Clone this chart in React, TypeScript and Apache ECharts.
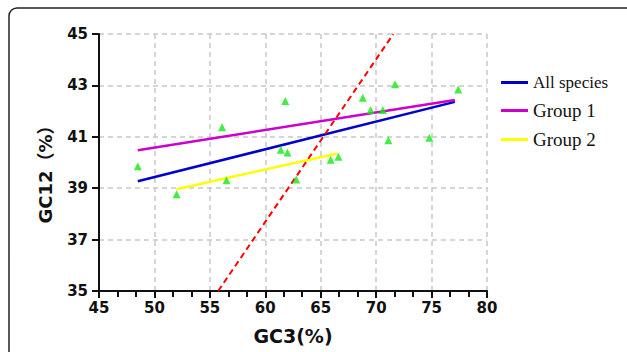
import React, { useEffect, useRef } from "react";
import * as echarts from "echarts";

const xTicks = { min: 45, max: 80, interval: 5 };
const yTicks = { min: 35, max: 45, interval: 2 };

const speciesGC3 = [48.5, 52.0, 56.1, 56.5, 61.8, 61.4, 62.0, 62.8, 65.9, 66.6, 68.8, 69.5, 70.6, 71.7, 71.1, 74.8, 77.4];
const speciesGC12 = [39.85, 38.76, 41.37, 39.31, 42.39, 40.5, 40.39, 39.34, 40.11, 40.22, 42.52, 42.04, 42.04, 43.04, 40.87, 40.96, 42.84];

const allSpeciesFit = [[48.5, 39.27], [77.1, 42.36]];
const group1Fit = [[48.5, 40.48], [77.1, 42.43]];
const group2Fit = [[52.0, 38.96], [66.5, 40.35]];
const neutralityLine = [[55.75, 35.0], [71.55, 45.0]];

const seriesNames = ["All species", "Group 1", "Group 2"];
const xAxisName = "GC3(%)";
const yAxisName = "GC12（%）";

export default function App() {
  const ref = useRef<HTMLDivElement>(null);
  useEffect(() => {
    if (!ref.current) return;
    const chart = echarts.init(ref.current, null, { renderer: "svg" });
    const sans = "'DejaVu Sans', 'Noto Sans CJK SC', sans-serif";
    const serif = "'Liberation Serif', 'Times New Roman', serif";
    const labelFont = {
      fontFamily: sans,
      fontWeight: "bold" as const,
      fontSize: 15,
      color: "#111",
    };
    const split = {
      show: true,
      lineStyle: { color: "#c8c8c8", width: 1.5, type: [5, 4] as number[] },
    };
    chart.setOption({
      animation: false,
      backgroundColor: "#fff",
      graphic: [
        {
          type: "rect",
          shape: { x: 9, y: 8, width: 700, height: 400, r: 8 },
          style: { fill: "none", stroke: "#222", lineWidth: 1.5 },
          silent: true,
        },
        {
          type: "text",
          x: 45,
          y: 170,
          rotation: Math.PI / 2,
          style: {
            text: yAxisName,
            fontFamily: sans,
            fontWeight: "bold",
            fontSize: 18,
            fill: "#111",
            align: "center",
            verticalAlign: "middle",
          },
          silent: true,
        },
      ],
      grid: { left: 99, right: 140, top: 34, bottom: 61, containLabel: false },
      legend: {
        left: 496,
        top: 69,
        orient: "vertical",
        itemWidth: 27,
        itemHeight: 3,
        itemGap: 10,
        icon: "rect",
        data: seriesNames,
        formatter: (n: string) => (n === "All species" ? `{a|${n}}` : `{b|${n}}`),
        textStyle: {
          color: "#111",
          fontFamily: serif,
          rich: {
            a: { fontSize: 17, fontFamily: serif, color: "#111" },
            b: { fontSize: 19, fontFamily: serif, color: "#111" },
          },
        },
      },
      xAxis: {
        type: "value",
        min: xTicks.min,
        max: xTicks.max,
        interval: xTicks.interval,
        name: xAxisName,
        nameLocation: "middle",
        nameGap: 35,
        nameTextStyle: { ...labelFont, fontSize: 19 },
        axisLine: { show: true, onZero: false, lineStyle: { color: "#111", width: 2 } },
        axisTick: { show: true, length: 7, lineStyle: { color: "#111", width: 2 } },
        minorTick: { show: true, splitNumber: 3, length: 6, lineStyle: { color: "#111", width: 2 } },
        axisLabel: { ...labelFont, margin: 9 },
        splitLine: split,
      },
      yAxis: {
        type: "value",
        min: yTicks.min,
        max: yTicks.max,
        interval: yTicks.interval,
        axisLine: { show: true, onZero: false, lineStyle: { color: "#111", width: 2 } },
        axisTick: { show: true, length: 7, lineStyle: { color: "#111", width: 2 } },
        axisLabel: { ...labelFont, margin: 11 },
        splitLine: split,
      },
      series: [
        {
          name: "points",
          type: "scatter",
          symbol: "triangle",
          symbolSize: 8,
          itemStyle: { color: "#14e814" },
          data: speciesGC3.map((x, i) => [x, speciesGC12[i]]),
          z: 5,
        },
        {
          name: "All species",
          type: "line",
          showSymbol: false,
          symbol: "none",
          data: allSpeciesFit,
          lineStyle: { color: "#0000cc", width: 2.5 },
          itemStyle: { color: "#0000cc" },
        },
        {
          name: "Group 1",
          type: "line",
          showSymbol: false,
          symbol: "none",
          data: group1Fit,
          lineStyle: { color: "#cc00cc", width: 2.5 },
          itemStyle: { color: "#cc00cc" },
        },
        {
          name: "Group 2",
          type: "line",
          showSymbol: false,
          symbol: "none",
          data: group2Fit,
          lineStyle: { color: "#ffff00", width: 2.5 },
          itemStyle: { color: "#ffff00" },
        },
        {
          name: "neutral",
          type: "line",
          showSymbol: false,
          symbol: "none",
          data: neutralityLine,
          lineStyle: { color: "#ff0000", width: 2, type: [6, 4] },
          itemStyle: { color: "#ff0000" },
        },
      ],
    });
    return () => chart.dispose();
  }, []);
  return (
    <div
      ref={ref}
      style={{ position: "fixed", left: 0, top: 0, width: 627, height: 352 }}
    />
  );
}
